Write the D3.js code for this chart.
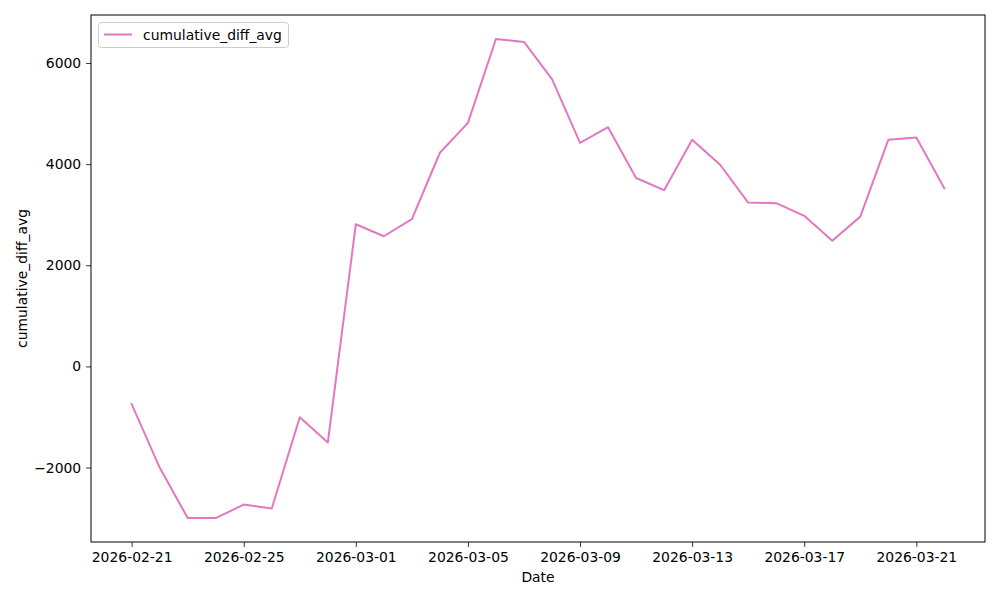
<!DOCTYPE html>
<html>
<head>
<meta charset="utf-8">
<script src="https://cdn.jsdelivr.net/npm/d3@7"></script>
<style>
  body { margin: 0; background: #fff; }
  svg { display: block; font-family: "DejaVu Sans", sans-serif; }
</style>
</head>
<body>
<svg id="chart" width="1000" height="600"></svg>
<script>
const dates = ["2026-02-21","2026-02-22","2026-02-23","2026-02-24","2026-02-25","2026-02-26","2026-02-27","2026-02-28",
  "2026-03-01","2026-03-02","2026-03-03","2026-03-04","2026-03-05","2026-03-06","2026-03-07","2026-03-08","2026-03-09",
  "2026-03-10","2026-03-11","2026-03-12","2026-03-13","2026-03-14","2026-03-15","2026-03-16","2026-03-17","2026-03-18",
  "2026-03-19","2026-03-20","2026-03-21","2026-03-22"];
const cumulativeDiffAvg = [-745, -2000, -2998, -2998, -2732, -2808, -1006, -1505,
  2812, 2574, 2914, 4225, 4815, 6475, 6416, 5680, 4422,
  4730, 3726, 3485, 4480, 3988, 3240, 3228, 2978, 2483,
  2962, 4480, 4527, 3522];
const xTickLabels = ["2026-02-21","2026-02-25","2026-03-01","2026-03-05","2026-03-09","2026-03-13","2026-03-17","2026-03-21"];
const yTickValues = [-2000, 0, 2000, 4000, 6000];
const seriesName = "cumulative_diff_avg";

const parse = d3.utcParse("%Y-%m-%d");
const data = dates.map((d, i) => ({ date: parse(d), value: cumulativeDiffAvg[i] }));

const svg = d3.select("#chart");
const L = 91, R = 985, T = 15, B = 542;
const DAY = 86400000;

const xMin = d3.min(data, d => d.date), xMax = d3.max(data, d => d.date);
const xPad = (xMax - xMin) * 0.05;
const x = d3.scaleUtc().domain([new Date(+xMin - xPad), new Date(+xMax + xPad)]).range([L, R]);

const yMin = d3.min(cumulativeDiffAvg), yMax = d3.max(cumulativeDiffAvg);
const yPad = (yMax - yMin) * 0.05;
const y = d3.scaleLinear().domain([yMin - yPad, yMax + yPad]).range([B, T]);

const fmtY = v => (v < 0 ? "\u2212" : "") + Math.abs(v);

// x axis
const xAxis = d3.axisBottom(x)
  .tickValues(xTickLabels.map(parse))
  .tickFormat(d3.utcFormat("%Y-%m-%d"))
  .tickSizeInner(4.9).tickSizeOuter(0).tickPadding(4.9);
const gx = svg.append("g").attr("transform", `translate(0,${B})`).call(xAxis);
gx.select(".domain").remove();
gx.selectAll("line").attr("stroke", "#000").attr("stroke-width", 0.8);
gx.selectAll("text").attr("font-size", "13.9px").attr("fill", "#000").attr("font-family", "DejaVu Sans");

// y axis
const yAxis = d3.axisLeft(y).tickValues(yTickValues).tickFormat(fmtY)
  .tickSizeInner(4.9).tickSizeOuter(0).tickPadding(4.9);
const gy = svg.append("g").attr("transform", `translate(${L},0)`).call(yAxis);
gy.select(".domain").remove();
gy.selectAll("line").attr("stroke", "#000").attr("stroke-width", 0.8);
gy.selectAll("text").attr("font-size", "13.9px").attr("fill", "#000").attr("font-family", "DejaVu Sans");

// line
const line = d3.line().x(d => x(d.date)).y(d => y(d.value));
svg.append("path").datum(data)
  .attr("fill", "none").attr("stroke", "#e377c2").attr("stroke-width", 2)
  .attr("stroke-linejoin", "round").attr("stroke-linecap", "square")
  .attr("d", line);

// frame
svg.append("rect").attr("x", L).attr("y", T).attr("width", R - L).attr("height", B - T)
  .attr("fill", "none").attr("stroke", "#000").attr("stroke-width", 1);

// axis labels
svg.append("text").attr("x", (L + R) / 2).attr("y", 582).attr("text-anchor", "middle")
  .attr("font-size", "13.9px").text("Date");
svg.append("text").attr("transform", `translate(27,${(T + B) / 2}) rotate(-90)`)
  .attr("text-anchor", "middle").attr("font-size", "13.9px").text(seriesName);

// legend
const lg = svg.append("g");
lg.append("rect").attr("x", 98.5).attr("y", 22.5).attr("width", 190).attr("height", 25).attr("rx", 3)
  .attr("fill", "#fff").attr("fill-opacity", 0.8).attr("stroke", "#ccc").attr("stroke-width", 1);
lg.append("line").attr("x1", 104).attr("x2", 132).attr("y1", 34.5).attr("y2", 34.5)
  .attr("stroke", "#e377c2").attr("stroke-width", 2);
lg.append("text").attr("x", 143).attr("y", 39.5).attr("font-size", "13.9px").text(seriesName);
</script>
</body>
</html>
